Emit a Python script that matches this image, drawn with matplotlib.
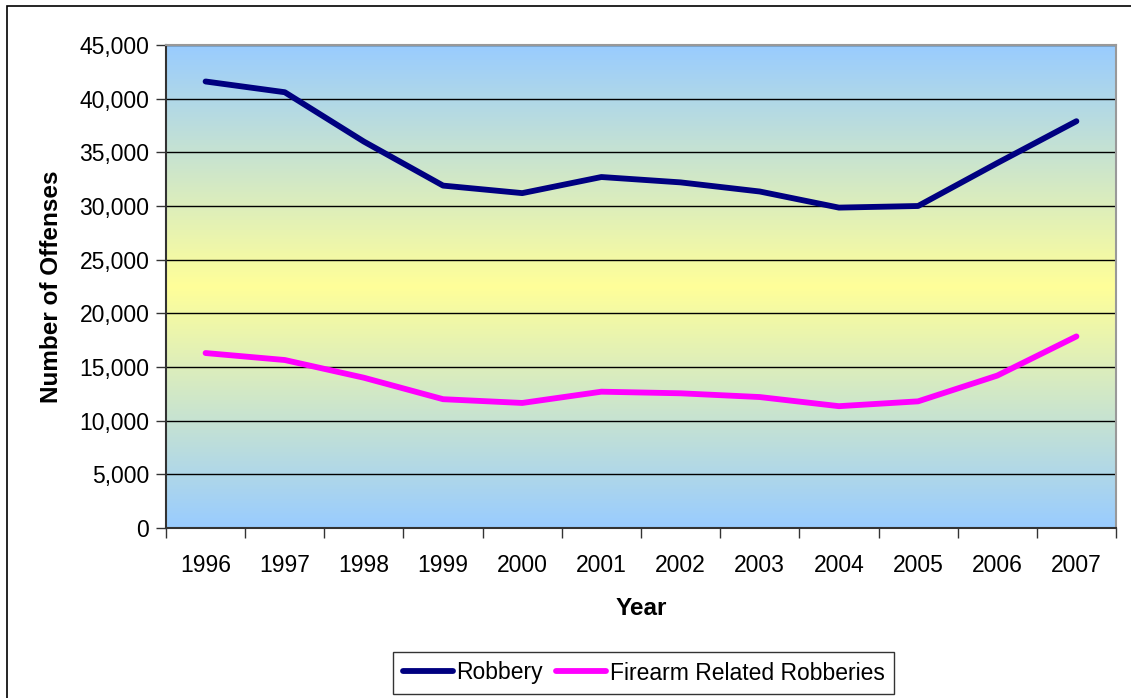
import numpy as np
import matplotlib
matplotlib.use("Agg")
import matplotlib.pyplot as plt
from matplotlib.patches import Rectangle
from matplotlib.colors import to_rgb
from matplotlib.ticker import FuncFormatter, FixedLocator

plt.rcParams['font.family'] = ['Liberation Sans', 'DejaVu Sans']

# data
years = ['1996', '1997', '1998', '1999', '2000', '2001',
         '2002', '2003', '2004', '2005', '2006', '2007']
robbery = [41600, 40600, 36000, 31900, 31200, 32700,
           32200, 31350, 29850, 30000, 34000, 37900]
firearm = [16300, 15650, 14000, 12000, 11650, 12700,
           12550, 12200, 11350, 11800, 14200, 17850]

W, H = 1131, 698
fig = plt.figure(figsize=(W / 100, H / 100), dpi=100)
ax = fig.add_axes([166 / W, 1 - 528 / H, (1116 - 166) / W, (528 - 45) / H])

# blue - yellow - blue gradient background
blue = np.array(to_rgb('#99CCFF'))
yellow = np.array(to_rgb('#FFFF99'))
t = np.abs(np.linspace(0, 1, 256) - 0.5) * 2
grad = (yellow[None, :] * (1 - t[:, None]) + blue[None, :] * t[:, None])[:, None, :]
ax.imshow(grad, aspect='auto', extent=(0, 1, 0, 1), transform=ax.transAxes, zorder=0)

x = np.arange(len(years))
ax.plot(x, robbery, color='#000080', lw=4.2, solid_capstyle='round', label='Robbery', zorder=3)
ax.plot(x, firearm, color='#FF00FF', lw=4.2, solid_capstyle='round', label='Firearm Related Robberies', zorder=3)

ax.set_xlim(-0.5, len(years) - 0.5)
ax.set_ylim(0, 45000)
ax.set_yticks(np.arange(0, 45001, 5000))
ax.yaxis.set_major_formatter(FuncFormatter(lambda v, p: f'{int(v):,}'))
ax.yaxis.grid(True, color='black', lw=1)
for gl in ax.get_ygridlines():
    gl.set_zorder(1)

# category axis: ticks between categories, labels centred
ax.xaxis.set_major_locator(FixedLocator(np.arange(-0.5, len(years), 1.0)))
ax.xaxis.set_minor_locator(FixedLocator(x))
ax.set_xticklabels([])
ax.set_xticklabels(years, minor=True)
ax.tick_params(axis='x', which='minor', length=0, pad=19, labelsize=16.5)
ax.tick_params(axis='x', which='major', length=7, width=1, color='#333333')
ax.tick_params(axis='y', length=7, width=1, color='#333333', labelsize=16.5, pad=5)

for side in ['left', 'bottom']:
    ax.spines[side].set_color('#333333')
    ax.spines[side].set_linewidth(1.5)
for side in ['top', 'right']:
    ax.spines[side].set_color('#999999')
    ax.spines[side].set_linewidth(1.5)

ax.set_xlabel('Year', fontsize=17.5, fontweight='bold', labelpad=14)
ax.set_ylabel('Number of Offenses', fontsize=17.5, fontweight='bold', labelpad=12)

leg = fig.legend(loc='center', bbox_to_anchor=(643.5 / W, 1 - 673 / H), ncol=2,
                 fontsize=16.5, frameon=True, fancybox=False, handlelength=2.2,
                 handletextpad=0.15, columnspacing=0.55, borderpad=0.4)
leg.get_frame().set_edgecolor('black')
leg.get_frame().set_linewidth(1)
leg.get_frame().set_facecolor('white')

# chart area border (only left and top visible in the crop)
fig.add_artist(Rectangle((7 / W, -0.05), 1.1, 1.05 - 6 / H, transform=fig.transFigure,
                         fill=False, edgecolor='black', lw=1.2))

fig.savefig('out.png', dpi=100)
